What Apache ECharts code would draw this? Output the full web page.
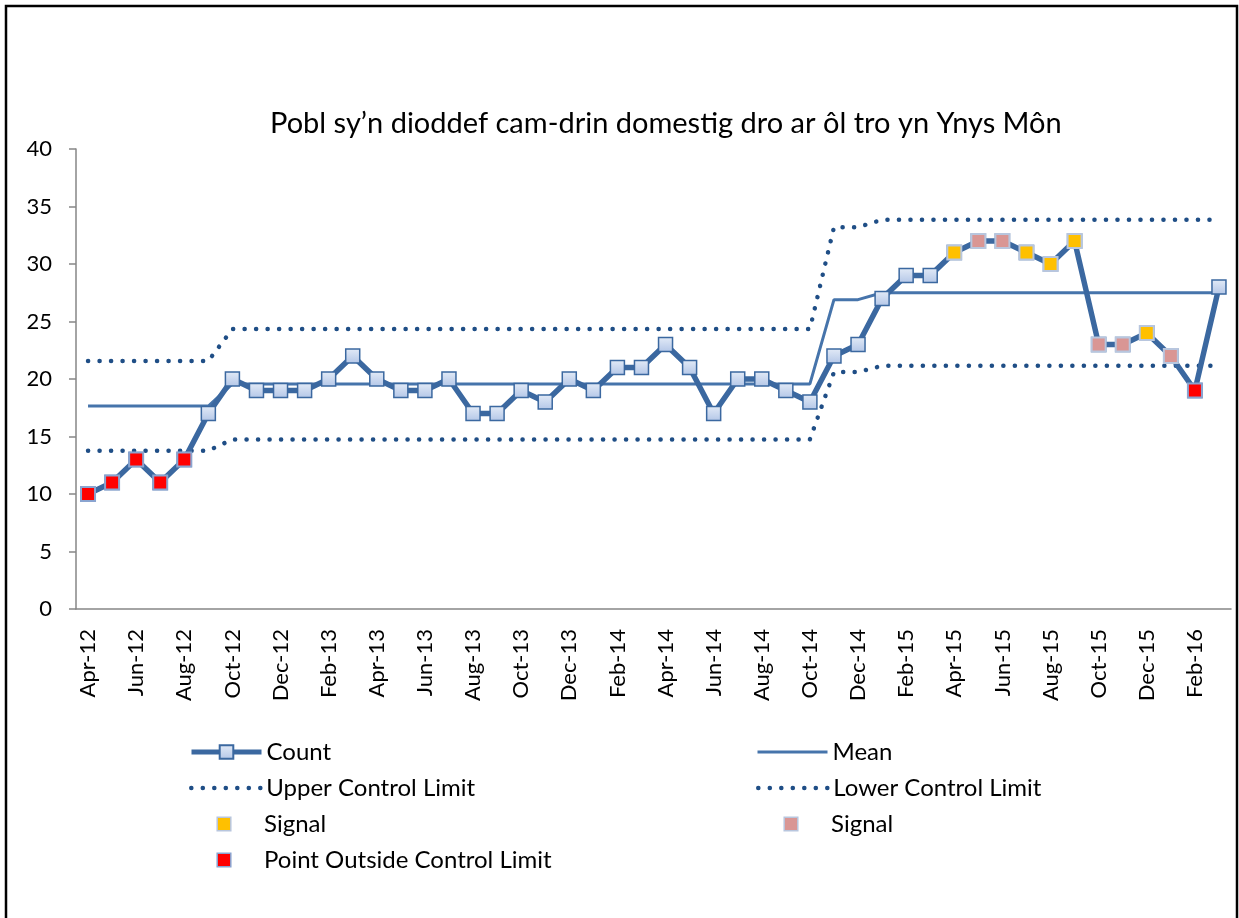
<!DOCTYPE html>
<html>
<head>
<meta charset="utf-8">
<script src="https://cdn.jsdelivr.net/npm/echarts@6/dist/echarts.min.js"></script>
<style>
  html, body { margin: 0; padding: 0; background: #fff; }
  #chart { width: 1239px; height: 918px; }
</style>
</head>
<body>
<div id="chart"></div>
<script>
// months on the category axis
const months = [
  'Apr-12', 'May-12', 'Jun-12', 'Jul-12', 'Aug-12', 'Sep-12', 'Oct-12', 'Nov-12', 'Dec-12', 'Jan-13', 'Feb-13', 'Mar-13',
  'Apr-13', 'May-13', 'Jun-13', 'Jul-13', 'Aug-13', 'Sep-13', 'Oct-13', 'Nov-13', 'Dec-13', 'Jan-14', 'Feb-14', 'Mar-14',
  'Apr-14', 'May-14', 'Jun-14', 'Jul-14', 'Aug-14', 'Sep-14', 'Oct-14', 'Nov-14', 'Dec-14', 'Jan-15', 'Feb-15', 'Mar-15',
  'Apr-15', 'May-15', 'Jun-15', 'Jul-15', 'Aug-15', 'Sep-15', 'Oct-15', 'Nov-15', 'Dec-15', 'Jan-16', 'Feb-16', 'Mar-16',
];

const counts = [
  10, 11, 13, 11, 13, 17, 20, 19, 19, 19, 20, 22,
  20, 19, 19, 20, 17, 17, 19, 18, 20, 19, 21, 21,
  23, 21, 17, 20, 20, 19, 18, 22, 23, 27, 29, 29,
  31, 32, 32, 31, 30, 32, 23, 23, 24, 22, 19, 28,
];

const mean = [
  17.65, 17.65, 17.65, 17.65, 17.65, 17.65, 19.57, 19.57, 19.57, 19.57, 19.57, 19.57,
  19.57, 19.57, 19.57, 19.57, 19.57, 19.57, 19.57, 19.57, 19.57, 19.57, 19.57, 19.57,
  19.57, 19.57, 19.57, 19.57, 19.57, 19.57, 19.57, 26.9, 26.9, 27.5, 27.5, 27.5,
  27.5, 27.5, 27.5, 27.5, 27.5, 27.5, 27.5, 27.5, 27.5, 27.5, 27.5, 27.5,
];

const upperLimit = [
  21.57, 21.57, 21.57, 21.57, 21.57, 21.57, 24.35, 24.35, 24.35, 24.35, 24.35, 24.35,
  24.35, 24.35, 24.35, 24.35, 24.35, 24.35, 24.35, 24.35, 24.35, 24.35, 24.35, 24.35,
  24.35, 24.35, 24.35, 24.35, 24.35, 24.35, 24.35, 33.2, 33.2, 33.85, 33.85, 33.85,
  33.85, 33.85, 33.85, 33.85, 33.85, 33.85, 33.85, 33.85, 33.85, 33.85, 33.85, 33.85,
];

const lowerLimit = [
  13.77, 13.77, 13.77, 13.77, 13.77, 13.77, 14.75, 14.75, 14.75, 14.75, 14.75, 14.75,
  14.75, 14.75, 14.75, 14.75, 14.75, 14.75, 14.75, 14.75, 14.75, 14.75, 14.75, 14.75,
  14.75, 14.75, 14.75, 14.75, 14.75, 14.75, 14.75, 20.6, 20.6, 21.15, 21.15, 21.15,
  21.15, 21.15, 21.15, 21.15, 21.15, 21.15, 21.15, 21.15, 21.15, 21.15, 21.15, 21.15,
];

// signal points (month, count)
const signalAmber = [['Apr-15', 31], ['Jul-15', 31], ['Aug-15', 30], ['Sep-15', 32], ['Dec-15', 24]];
const signalPink = [['May-15', 32], ['Jun-15', 32], ['Oct-15', 23], ['Nov-15', 23], ['Jan-16', 22]];
const outsideLimit = [['Apr-12', 10], ['May-12', 11], ['Jun-12', 13], ['Jul-12', 11], ['Aug-12', 13], ['Feb-16', 19]];

const FONT = 'Lato, "Noto Sans", sans-serif';
const LINE_BLUE = '#3b68a0';
const MEAN_BLUE = '#4674ab';
const DOT_BLUE = '#1f4e86';
const AXIS_GREY = '#868686';

const dotted = { color: DOT_BLUE, width: 4.5, type: [0.1, 11.4], cap: 'round' };

const countFill = new echarts.graphic.LinearGradient(0, 0, 0, 1, [
  { offset: 0, color: '#e3ebf7' },
  { offset: 1, color: '#b3c6e7' },
]);

const legendText = { fontFamily: FONT, fontSize: 24, color: '#000' };
const legendBase = (left, top, name, extra) => Object.assign({
  left,
  top,
  orient: 'horizontal',
  itemWidth: 70,
  itemHeight: 17,
  selectedMode: false,
  textStyle: legendText,
  data: [name],
}, extra);

// marker-only series: a line series with no visible line, drawn above Count
const markerSeries = (name, data, fill, border) => ({
  name,
  type: 'line',
  data,
  z: 5,
  symbol: 'rect',
  symbolSize: 14,
  showAllSymbol: true,
  lineStyle: { width: 0, opacity: 0 },
  itemStyle: { color: fill, borderColor: border, borderWidth: 2 },
});

const chart = echarts.init(document.getElementById('chart'));

chart.setOption({
  animation: false,
  backgroundColor: '#fff',
  title: {
    text: 'Pobl sy’n dioddef cam-drin domestig dro ar ôl tro yn Ynys Môn',
    left: 265,
    top: 104,
    textStyle: { fontFamily: FONT, fontSize: 29, fontWeight: 'normal', color: '#000' },
  },
  graphic: [{
    type: 'rect',
    shape: { x: 6, y: 6, width: 1231, height: 940 },
    style: { fill: 'none', stroke: '#000', lineWidth: 2.5 },
    silent: true,
  }],
  legend: [
    legendBase(184, 735, 'Count', { lineStyle: { width: 5 } }),
    legendBase(751, 735, 'Mean', { lineStyle: { width: 3 }, itemStyle: { opacity: 0 } }),
    legendBase(184, 771, 'Upper Control Limit', { lineStyle: { width: 4.5, type: [0.1, 11.4], cap: 'round' }, itemStyle: { opacity: 0 } }),
    legendBase(751, 771, 'Lower Control Limit', { lineStyle: { width: 4.5, type: [0.1, 11.4], cap: 'round' }, itemStyle: { opacity: 0 } }),
    legendBase(184, 807, 'Signal', { lineStyle: { width: 0 }, itemStyle: { borderWidth: 1.5 } }),
    legendBase(751, 807, 'Signal ', { lineStyle: { width: 0 }, itemStyle: { borderWidth: 1.5 }, formatter: () => 'Signal' }),
    legendBase(184, 843, 'Point Outside Control Limit', { lineStyle: { width: 0 }, itemStyle: { borderWidth: 1.5 } }),
  ],
  grid: { left: 76, right: 8, top: 149, bottom: 309, containLabel: false },
  xAxis: {
    type: 'category',
    data: months,
    boundaryGap: true,
    axisLine: { lineStyle: { color: AXIS_GREY, width: 1.5 } },
    axisTick: { show: false },
    axisLabel: {
      interval: 1,
      rotate: 90,
      margin: 20,
      fontFamily: FONT,
      fontSize: 22,
      color: '#000',
    },
  },
  yAxis: {
    type: 'value',
    min: 0,
    max: 40,
    interval: 5,
    axisLine: { show: true, lineStyle: { color: AXIS_GREY, width: 1.5 } },
    axisTick: { show: true, length: 7, lineStyle: { color: AXIS_GREY, width: 1.5 } },
    splitLine: { show: false },
    axisLabel: { margin: 24, fontFamily: FONT, fontSize: 22, color: '#000' },
  },
  series: [
    {
      name: 'Upper Control Limit',
      type: 'line',
      data: upperLimit,
      symbol: 'none',
      itemStyle: { color: DOT_BLUE },
      lineStyle: dotted,
    },
    {
      name: 'Lower Control Limit',
      type: 'line',
      data: lowerLimit,
      symbol: 'none',
      itemStyle: { color: DOT_BLUE },
      lineStyle: dotted,
    },
    {
      name: 'Mean',
      type: 'line',
      data: mean,
      symbol: 'none',
      itemStyle: { color: MEAN_BLUE },
      lineStyle: { color: MEAN_BLUE, width: 3 },
    },
    {
      name: 'Count',
      type: 'line',
      data: counts,
      symbol: 'rect',
      symbolSize: 14,
      showAllSymbol: true,
      lineStyle: { color: LINE_BLUE, width: 5.5 },
      itemStyle: { color: countFill, borderColor: LINE_BLUE, borderWidth: 1.5 },
    },
    markerSeries('Signal', signalAmber, '#ffc000', '#b8c6de'),
    markerSeries('Signal ', signalPink, '#d99694', '#b8c6de'),
    markerSeries('Point Outside Control Limit', outsideLimit, '#ff0000', '#8aa4d0'),
  ],
});
</script>
</body>
</html>
